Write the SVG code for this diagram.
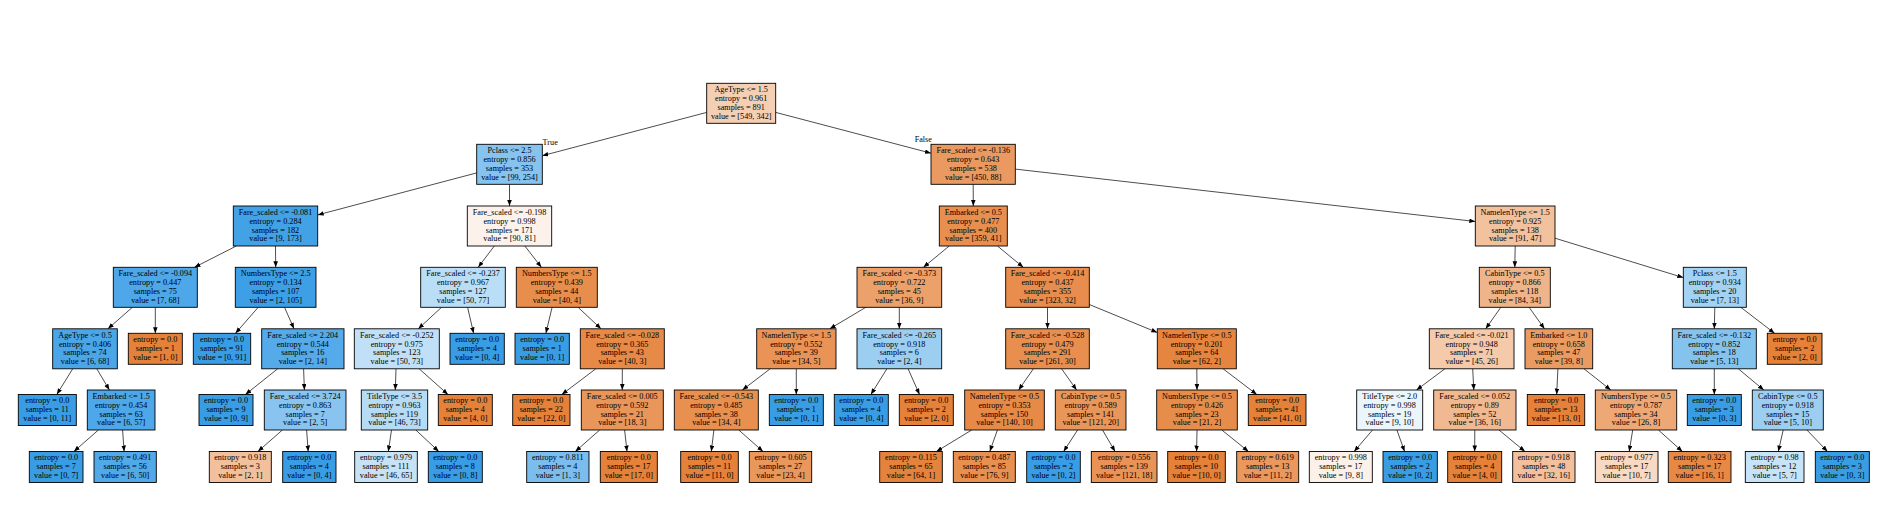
<svg xmlns="http://www.w3.org/2000/svg" width="1885" height="518" viewBox="0 0 1885 518">
<style>
.b{stroke:#000;stroke-width:0.9}
text{font-family:"Liberation Serif","Times New Roman",serif;font-size:8.2px;fill:#000;text-anchor:middle}
.e line{stroke:#000;stroke-width:0.7;marker-end:url(#ah)}
</style>
<defs>
<marker id="ah" markerWidth="6" markerHeight="5" refX="6" refY="2.3" orient="auto" markerUnits="userSpaceOnUse"><path d="M0,0 L6,2.3 L0,4.6 z" fill="#000"/></marker>
</defs>
<rect width="1885" height="518" fill="#fff"/>
<g id="edges" class="e">
<line x1="706.7" y1="112.4" x2="542.3" y2="155.7"/>
<line x1="775.7" y1="112.4" x2="931" y2="153.2"/>
<line x1="476.7" y1="172.9" x2="317.7" y2="214.9"/>
<line x1="509.5" y1="184.3" x2="509.5" y2="206"/>
<line x1="973.2" y1="184.3" x2="973.3" y2="206"/>
<line x1="1015.3" y1="169.1" x2="1475.3" y2="221.5"/>
<line x1="236.3" y1="246" x2="194.5" y2="267.3"/>
<line x1="275.5" y1="246" x2="275.7" y2="267.3"/>
<line x1="132.4" y1="307.3" x2="107.9" y2="328.8"/>
<line x1="155.3" y1="307.3" x2="155.3" y2="333.3"/>
<line x1="72.7" y1="368.8" x2="56.8" y2="394.5"/>
<line x1="96.8" y1="368.8" x2="109.4" y2="390"/>
<line x1="98.4" y1="430" x2="73.9" y2="451.5"/>
<line x1="122.6" y1="430" x2="124.1" y2="451.5"/>
<line x1="258.2" y1="307.3" x2="235.5" y2="333.3"/>
<line x1="284.5" y1="307.3" x2="294" y2="328.8"/>
<line x1="277.7" y1="368.8" x2="245.4" y2="394.5"/>
<line x1="303.6" y1="368.8" x2="304.4" y2="390"/>
<line x1="282.4" y1="430" x2="257.9" y2="451.5"/>
<line x1="306.6" y1="430" x2="308.2" y2="451.5"/>
<line x1="494.3" y1="246" x2="478.2" y2="267.3"/>
<line x1="524.9" y1="246" x2="541.4" y2="267.3"/>
<line x1="441.5" y1="307.3" x2="418.3" y2="328.8"/>
<line x1="467.6" y1="307.3" x2="473.6" y2="333.3"/>
<line x1="396" y1="368.8" x2="395.3" y2="390"/>
<line x1="419.2" y1="368.8" x2="448" y2="394.5"/>
<line x1="391.5" y1="430" x2="388.3" y2="451.5"/>
<line x1="415.8" y1="430" x2="438.8" y2="451.5"/>
<line x1="552.1" y1="307.3" x2="545.9" y2="333.3"/>
<line x1="578.1" y1="307.3" x2="601" y2="328.8"/>
<line x1="595.8" y1="368.8" x2="561.8" y2="394.5"/>
<line x1="622.3" y1="368.8" x2="622.3" y2="390"/>
<line x1="599.7" y1="430" x2="575.3" y2="451.5"/>
<line x1="624.6" y1="430" x2="627" y2="451.5"/>
<line x1="949.2" y1="246" x2="923.4" y2="267.3"/>
<line x1="997.5" y1="246" x2="1023.3" y2="267.3"/>
<line x1="865.8" y1="307.3" x2="829.8" y2="328.8"/>
<line x1="899.3" y1="307.3" x2="899.3" y2="328.8"/>
<line x1="770.2" y1="368.8" x2="742.4" y2="390"/>
<line x1="796.3" y1="368.8" x2="796.3" y2="394.5"/>
<line x1="713.9" y1="430" x2="711.3" y2="451.5"/>
<line x1="738.8" y1="430" x2="763" y2="451.5"/>
<line x1="886.9" y1="368.8" x2="870.9" y2="394.5"/>
<line x1="908.1" y1="368.8" x2="919.5" y2="394.5"/>
<line x1="1047.5" y1="307.3" x2="1047.5" y2="328.8"/>
<line x1="1089.3" y1="304.5" x2="1157.3" y2="332.5"/>
<line x1="1033.4" y1="368.8" x2="1018.6" y2="390"/>
<line x1="1061.6" y1="368.8" x2="1076.6" y2="390"/>
<line x1="971.7" y1="430" x2="936.4" y2="451.5"/>
<line x1="997.4" y1="430" x2="989.8" y2="451.5"/>
<line x1="1077.6" y1="430" x2="1063.6" y2="451.5"/>
<line x1="1102.5" y1="430" x2="1115.1" y2="451.5"/>
<line x1="1196.8" y1="368.8" x2="1197" y2="390"/>
<line x1="1223.1" y1="368.8" x2="1256.8" y2="394.5"/>
<line x1="1197" y1="430" x2="1196.6" y2="451.5"/>
<line x1="1221.8" y1="430" x2="1248.5" y2="451.5"/>
<line x1="1515.2" y1="246" x2="1514.8" y2="267.3"/>
<line x1="1555" y1="238.2" x2="1683.3" y2="277.6"/>
<line x1="1500.8" y1="307.3" x2="1485.7" y2="328.8"/>
<line x1="1529.1" y1="307.3" x2="1544.5" y2="328.8"/>
<line x1="1444.9" y1="368.8" x2="1416.5" y2="390"/>
<line x1="1472.7" y1="368.8" x2="1473.8" y2="390"/>
<line x1="1372.5" y1="430" x2="1354.1" y2="451.5"/>
<line x1="1396.9" y1="430" x2="1404.6" y2="451.5"/>
<line x1="1474.8" y1="430" x2="1474.7" y2="451.5"/>
<line x1="1499" y1="430" x2="1525" y2="451.5"/>
<line x1="1557.9" y1="368.8" x2="1556.7" y2="394.5"/>
<line x1="1584" y1="368.8" x2="1610.8" y2="390"/>
<line x1="1632.7" y1="430" x2="1629.2" y2="451.5"/>
<line x1="1658.4" y1="430" x2="1682.4" y2="451.5"/>
<line x1="1714.8" y1="307.3" x2="1714.3" y2="328.8"/>
<line x1="1740.8" y1="307.3" x2="1774.6" y2="333.3"/>
<line x1="1714.3" y1="368.8" x2="1714.3" y2="394.5"/>
<line x1="1738.3" y1="368.8" x2="1763.8" y2="390"/>
<line x1="1783.2" y1="430" x2="1778.3" y2="451.5"/>
<line x1="1806.9" y1="430" x2="1827.5" y2="451.5"/>
<text x="550.2" y="145">True</text>
<text x="923.3" y="142.3">False</text>
</g>
<g id="n0"><rect class="b" x="706.7" y="83.3" width="69" height="40" fill="#f5cfb4"/><text x="741.2" y="92.2"><tspan x="741.2">AgeType &lt;= 1.5</tspan><tspan x="741.2" dy="8.8">entropy = 0.961</tspan><tspan x="741.2" dy="8.8">samples = 891</tspan><tspan x="741.2" dy="8.8">value = [549, 342]</tspan></text></g>
<g id="n1"><rect class="b" x="476.7" y="144.3" width="65.6" height="40" fill="#86c3ef"/><text x="509.5" y="153.2"><tspan x="509.5">Pclass &lt;= 2.5</tspan><tspan x="509.5" dy="8.8">entropy = 0.856</tspan><tspan x="509.5" dy="8.8">samples = 353</tspan><tspan x="509.5" dy="8.8">value = [99, 254]</tspan></text></g>
<g id="n2"><rect class="b" x="233.3" y="206" width="84.4" height="40" fill="#43a2e6"/><text x="275.5" y="214.9"><tspan x="275.5">Fare_scaled &lt;= -0.081</tspan><tspan x="275.5" dy="8.8">entropy = 0.284</tspan><tspan x="275.5" dy="8.8">samples = 182</tspan><tspan x="275.5" dy="8.8">value = [9, 173]</tspan></text></g>
<g id="n3"><rect class="b" x="113.3" y="267.3" width="84" height="40" fill="#4da7e8"/><text x="155.3" y="276.2"><tspan x="155.3">Fare_scaled &lt;= -0.094</tspan><tspan x="155.3" dy="8.8">entropy = 0.447</tspan><tspan x="155.3" dy="8.8">samples = 75</tspan><tspan x="155.3" dy="8.8">value = [7, 68]</tspan></text></g>
<g id="n4"><rect class="b" x="52.7" y="328.8" width="64.6" height="40" fill="#4aa6e7"/><text x="85" y="337.7"><tspan x="85">AgeType &lt;= 0.5</tspan><tspan x="85" dy="8.8">entropy = 0.406</tspan><tspan x="85" dy="8.8">samples = 74</tspan><tspan x="85" dy="8.8">value = [6, 68]</tspan></text></g>
<g id="n5"><rect class="b" x="18.3" y="394.5" width="58" height="31" fill="#399de5"/><text x="47.3" y="403.4"><tspan x="47.3">entropy = 0.0</tspan><tspan x="47.3" dy="8.8">samples = 11</tspan><tspan x="47.3" dy="8.8">value = [0, 11]</tspan></text></g>
<g id="n6"><rect class="b" x="87.3" y="390" width="67.7" height="40" fill="#4ea7e8"/><text x="121.2" y="398.9"><tspan x="121.2">Embarked &lt;= 1.5</tspan><tspan x="121.2" dy="8.8">entropy = 0.454</tspan><tspan x="121.2" dy="8.8">samples = 63</tspan><tspan x="121.2" dy="8.8">value = [6, 57]</tspan></text></g>
<g id="n7"><rect class="b" x="29.3" y="451.5" width="53.7" height="31" fill="#399de5"/><text x="56.2" y="460.4"><tspan x="56.2">entropy = 0.0</tspan><tspan x="56.2" dy="8.8">samples = 7</tspan><tspan x="56.2" dy="8.8">value = [0, 7]</tspan></text></g>
<g id="n8"><rect class="b" x="94" y="451.5" width="62.3" height="31" fill="#51a9e8"/><text x="125.2" y="460.4"><tspan x="125.2">entropy = 0.491</tspan><tspan x="125.2" dy="8.8">samples = 56</tspan><tspan x="125.2" dy="8.8">value = [6, 50]</tspan></text></g>
<g id="n9"><rect class="b" x="128.3" y="333.3" width="54" height="31" fill="#e58139"/><text x="155.3" y="342.2"><tspan x="155.3">entropy = 0.0</tspan><tspan x="155.3" dy="8.8">samples = 1</tspan><tspan x="155.3" dy="8.8">value = [1, 0]</tspan></text></g>
<g id="n10"><rect class="b" x="235.3" y="267.3" width="80.7" height="40" fill="#3d9fe5"/><text x="275.7" y="276.2"><tspan x="275.7">NumbersType &lt;= 2.5</tspan><tspan x="275.7" dy="8.8">entropy = 0.134</tspan><tspan x="275.7" dy="8.8">samples = 107</tspan><tspan x="275.7" dy="8.8">value = [2, 105]</tspan></text></g>
<g id="n11"><rect class="b" x="193.3" y="333.3" width="57.4" height="31" fill="#399de5"/><text x="222" y="342.2"><tspan x="222">entropy = 0.0</tspan><tspan x="222" dy="8.8">samples = 91</tspan><tspan x="222" dy="8.8">value = [0, 91]</tspan></text></g>
<g id="n12"><rect class="b" x="261.7" y="328.8" width="82.3" height="40" fill="#55abe9"/><text x="302.8" y="337.7"><tspan x="302.8">Fare_scaled &lt;= 2.204</tspan><tspan x="302.8" dy="8.8">entropy = 0.544</tspan><tspan x="302.8" dy="8.8">samples = 16</tspan><tspan x="302.8" dy="8.8">value = [2, 14]</tspan></text></g>
<g id="n13"><rect class="b" x="199" y="394.5" width="54" height="31" fill="#399de5"/><text x="226" y="403.4"><tspan x="226">entropy = 0.0</tspan><tspan x="226" dy="8.8">samples = 9</tspan><tspan x="226" dy="8.8">value = [0, 9]</tspan></text></g>
<g id="n14"><rect class="b" x="264.3" y="390" width="81.7" height="40" fill="#88c4ef"/><text x="305.2" y="398.9"><tspan x="305.2">Fare_scaled &lt;= 3.724</tspan><tspan x="305.2" dy="8.8">entropy = 0.863</tspan><tspan x="305.2" dy="8.8">samples = 7</tspan><tspan x="305.2" dy="8.8">value = [2, 5]</tspan></text></g>
<g id="n15"><rect class="b" x="209.3" y="451.5" width="62" height="31" fill="#f2c09c"/><text x="240.3" y="460.4"><tspan x="240.3">entropy = 0.918</tspan><tspan x="240.3" dy="8.8">samples = 3</tspan><tspan x="240.3" dy="8.8">value = [2, 1]</tspan></text></g>
<g id="n16"><rect class="b" x="282.7" y="451.5" width="53.3" height="31" fill="#399de5"/><text x="309.3" y="460.4"><tspan x="309.3">entropy = 0.0</tspan><tspan x="309.3" dy="8.8">samples = 4</tspan><tspan x="309.3" dy="8.8">value = [0, 4]</tspan></text></g>
<g id="n17"><rect class="b" x="467.3" y="206" width="84.4" height="40" fill="#fcf2eb"/><text x="509.5" y="214.9"><tspan x="509.5">Fare_scaled &lt;= -0.198</tspan><tspan x="509.5" dy="8.8">entropy = 0.998</tspan><tspan x="509.5" dy="8.8">samples = 171</tspan><tspan x="509.5" dy="8.8">value = [90, 81]</tspan></text></g>
<g id="n18"><rect class="b" x="420.7" y="267.3" width="84.6" height="40" fill="#badef6"/><text x="463" y="276.2"><tspan x="463">Fare_scaled &lt;= -0.237</tspan><tspan x="463" dy="8.8">entropy = 0.967</tspan><tspan x="463" dy="8.8">samples = 127</tspan><tspan x="463" dy="8.8">value = [50, 77]</tspan></text></g>
<g id="n19"><rect class="b" x="354.3" y="328.8" width="85" height="40" fill="#c1e0f7"/><text x="396.8" y="337.7"><tspan x="396.8">Fare_scaled &lt;= -0.252</tspan><tspan x="396.8" dy="8.8">entropy = 0.975</tspan><tspan x="396.8" dy="8.8">samples = 123</tspan><tspan x="396.8" dy="8.8">value = [50, 73]</tspan></text></g>
<g id="n20"><rect class="b" x="361.3" y="390" width="66.4" height="40" fill="#b6dbf5"/><text x="394.5" y="398.9"><tspan x="394.5">TitleType &lt;= 3.5</tspan><tspan x="394.5" dy="8.8">entropy = 0.963</tspan><tspan x="394.5" dy="8.8">samples = 119</tspan><tspan x="394.5" dy="8.8">value = [46, 73]</tspan></text></g>
<g id="n21"><rect class="b" x="354.7" y="451.5" width="62.6" height="31" fill="#c5e2f7"/><text x="386" y="460.4"><tspan x="386">entropy = 0.979</tspan><tspan x="386" dy="8.8">samples = 111</tspan><tspan x="386" dy="8.8">value = [46, 65]</tspan></text></g>
<g id="n22"><rect class="b" x="428.3" y="451.5" width="54" height="31" fill="#399de5"/><text x="455.3" y="460.4"><tspan x="455.3">entropy = 0.0</tspan><tspan x="455.3" dy="8.8">samples = 8</tspan><tspan x="455.3" dy="8.8">value = [0, 8]</tspan></text></g>
<g id="n23"><rect class="b" x="438.3" y="394.5" width="54" height="31" fill="#e58139"/><text x="465.3" y="403.4"><tspan x="465.3">entropy = 0.0</tspan><tspan x="465.3" dy="8.8">samples = 4</tspan><tspan x="465.3" dy="8.8">value = [4, 0]</tspan></text></g>
<g id="n24"><rect class="b" x="450" y="333.3" width="54.3" height="31" fill="#399de5"/><text x="477.2" y="342.2"><tspan x="477.2">entropy = 0.0</tspan><tspan x="477.2" dy="8.8">samples = 4</tspan><tspan x="477.2" dy="8.8">value = [0, 4]</tspan></text></g>
<g id="n25"><rect class="b" x="516.3" y="267.3" width="81" height="40" fill="#e88e4d"/><text x="556.8" y="276.2"><tspan x="556.8">NumbersType &lt;= 1.5</tspan><tspan x="556.8" dy="8.8">entropy = 0.439</tspan><tspan x="556.8" dy="8.8">samples = 44</tspan><tspan x="556.8" dy="8.8">value = [40, 4]</tspan></text></g>
<g id="n26"><rect class="b" x="515" y="333.3" width="54.3" height="31" fill="#399de5"/><text x="542.2" y="342.2"><tspan x="542.2">entropy = 0.0</tspan><tspan x="542.2" dy="8.8">samples = 1</tspan><tspan x="542.2" dy="8.8">value = [0, 1]</tspan></text></g>
<g id="n27"><rect class="b" x="580.3" y="328.8" width="84" height="40" fill="#e78a48"/><text x="622.3" y="337.7"><tspan x="622.3">Fare_scaled &lt;= -0.028</tspan><tspan x="622.3" dy="8.8">entropy = 0.365</tspan><tspan x="622.3" dy="8.8">samples = 43</tspan><tspan x="622.3" dy="8.8">value = [40, 3]</tspan></text></g>
<g id="n28"><rect class="b" x="512.7" y="394.5" width="57.3" height="31" fill="#e58139"/><text x="541.3" y="403.4"><tspan x="541.3">entropy = 0.0</tspan><tspan x="541.3" dy="8.8">samples = 22</tspan><tspan x="541.3" dy="8.8">value = [22, 0]</tspan></text></g>
<g id="n29"><rect class="b" x="581.3" y="390" width="82" height="40" fill="#e9965a"/><text x="622.3" y="398.9"><tspan x="622.3">Fare_scaled &lt;= 0.005</tspan><tspan x="622.3" dy="8.8">entropy = 0.592</tspan><tspan x="622.3" dy="8.8">samples = 21</tspan><tspan x="622.3" dy="8.8">value = [18, 3]</tspan></text></g>
<g id="n30"><rect class="b" x="526.7" y="451.5" width="62.3" height="31" fill="#7bbeee"/><text x="557.8" y="460.4"><tspan x="557.8">entropy = 0.811</tspan><tspan x="557.8" dy="8.8">samples = 4</tspan><tspan x="557.8" dy="8.8">value = [1, 3]</tspan></text></g>
<g id="n31"><rect class="b" x="600.3" y="451.5" width="57" height="31" fill="#e58139"/><text x="628.8" y="460.4"><tspan x="628.8">entropy = 0.0</tspan><tspan x="628.8" dy="8.8">samples = 17</tspan><tspan x="628.8" dy="8.8">value = [17, 0]</tspan></text></g>
<g id="n32"><rect class="b" x="931" y="144.3" width="84.3" height="40" fill="#ea9a60"/><text x="973.2" y="153.2"><tspan x="973.2">Fare_scaled &lt;= -0.136</tspan><tspan x="973.2" dy="8.8">entropy = 0.643</tspan><tspan x="973.2" dy="8.8">samples = 538</tspan><tspan x="973.2" dy="8.8">value = [450, 88]</tspan></text></g>
<g id="n33"><rect class="b" x="939.3" y="206" width="68" height="40" fill="#e88f50"/><text x="973.3" y="214.9"><tspan x="973.3">Embarked &lt;= 0.5</tspan><tspan x="973.3" dy="8.8">entropy = 0.477</tspan><tspan x="973.3" dy="8.8">samples = 400</tspan><tspan x="973.3" dy="8.8">value = [359, 41]</tspan></text></g>
<g id="n34"><rect class="b" x="857" y="267.3" width="84.7" height="40" fill="#eca06a"/><text x="899.3" y="276.2"><tspan x="899.3">Fare_scaled &lt;= -0.373</tspan><tspan x="899.3" dy="8.8">entropy = 0.722</tspan><tspan x="899.3" dy="8.8">samples = 45</tspan><tspan x="899.3" dy="8.8">value = [36, 9]</tspan></text></g>
<g id="n35"><rect class="b" x="756.7" y="328.8" width="79.3" height="40" fill="#e99456"/><text x="796.3" y="337.7"><tspan x="796.3">NamelenType &lt;= 1.5</tspan><tspan x="796.3" dy="8.8">entropy = 0.552</tspan><tspan x="796.3" dy="8.8">samples = 39</tspan><tspan x="796.3" dy="8.8">value = [34, 5]</tspan></text></g>
<g id="n36"><rect class="b" x="674.3" y="390" width="84" height="40" fill="#e89050"/><text x="716.3" y="398.9"><tspan x="716.3">Fare_scaled &lt;= -0.543</tspan><tspan x="716.3" dy="8.8">entropy = 0.485</tspan><tspan x="716.3" dy="8.8">samples = 38</tspan><tspan x="716.3" dy="8.8">value = [34, 4]</tspan></text></g>
<g id="n37"><rect class="b" x="680.7" y="451.5" width="57.6" height="31" fill="#e58139"/><text x="709.5" y="460.4"><tspan x="709.5">entropy = 0.0</tspan><tspan x="709.5" dy="8.8">samples = 11</tspan><tspan x="709.5" dy="8.8">value = [11, 0]</tspan></text></g>
<g id="n38"><rect class="b" x="749.3" y="451.5" width="62.4" height="31" fill="#ea975b"/><text x="780.5" y="460.4"><tspan x="780.5">entropy = 0.605</tspan><tspan x="780.5" dy="8.8">samples = 27</tspan><tspan x="780.5" dy="8.8">value = [23, 4]</tspan></text></g>
<g id="n39"><rect class="b" x="769.3" y="394.5" width="54" height="31" fill="#399de5"/><text x="796.3" y="403.4"><tspan x="796.3">entropy = 0.0</tspan><tspan x="796.3" dy="8.8">samples = 1</tspan><tspan x="796.3" dy="8.8">value = [0, 1]</tspan></text></g>
<g id="n40"><rect class="b" x="857" y="328.8" width="84.7" height="40" fill="#9ccef2"/><text x="899.3" y="337.7"><tspan x="899.3">Fare_scaled &lt;= -0.265</tspan><tspan x="899.3" dy="8.8">entropy = 0.918</tspan><tspan x="899.3" dy="8.8">samples = 6</tspan><tspan x="899.3" dy="8.8">value = [2, 4]</tspan></text></g>
<g id="n41"><rect class="b" x="834.3" y="394.5" width="54" height="31" fill="#399de5"/><text x="861.3" y="403.4"><tspan x="861.3">entropy = 0.0</tspan><tspan x="861.3" dy="8.8">samples = 4</tspan><tspan x="861.3" dy="8.8">value = [0, 4]</tspan></text></g>
<g id="n42"><rect class="b" x="899.3" y="394.5" width="54" height="31" fill="#e58139"/><text x="926.3" y="403.4"><tspan x="926.3">entropy = 0.0</tspan><tspan x="926.3" dy="8.8">samples = 2</tspan><tspan x="926.3" dy="8.8">value = [2, 0]</tspan></text></g>
<g id="n43"><rect class="b" x="1005.7" y="267.3" width="83.6" height="40" fill="#e88d4d"/><text x="1047.5" y="276.2"><tspan x="1047.5">Fare_scaled &lt;= -0.414</tspan><tspan x="1047.5" dy="8.8">entropy = 0.437</tspan><tspan x="1047.5" dy="8.8">samples = 355</tspan><tspan x="1047.5" dy="8.8">value = [323, 32]</tspan></text></g>
<g id="n44"><rect class="b" x="1005.7" y="328.8" width="83.6" height="40" fill="#e88f50"/><text x="1047.5" y="337.7"><tspan x="1047.5">Fare_scaled &lt;= -0.528</tspan><tspan x="1047.5" dy="8.8">entropy = 0.479</tspan><tspan x="1047.5" dy="8.8">samples = 291</tspan><tspan x="1047.5" dy="8.8">value = [261, 30]</tspan></text></g>
<g id="n45"><rect class="b" x="964.7" y="390" width="79.6" height="40" fill="#e78a47"/><text x="1004.5" y="398.9"><tspan x="1004.5">NamelenType &lt;= 0.5</tspan><tspan x="1004.5" dy="8.8">entropy = 0.353</tspan><tspan x="1004.5" dy="8.8">samples = 150</tspan><tspan x="1004.5" dy="8.8">value = [140, 10]</tspan></text></g>
<g id="n46"><rect class="b" x="879.7" y="451.5" width="62.6" height="31" fill="#e5833c"/><text x="911" y="460.4"><tspan x="911">entropy = 0.115</tspan><tspan x="911" dy="8.8">samples = 65</tspan><tspan x="911" dy="8.8">value = [64, 1]</tspan></text></g>
<g id="n47"><rect class="b" x="953.3" y="451.5" width="62" height="31" fill="#e89050"/><text x="984.3" y="460.4"><tspan x="984.3">entropy = 0.487</tspan><tspan x="984.3" dy="8.8">samples = 85</tspan><tspan x="984.3" dy="8.8">value = [76, 9]</tspan></text></g>
<g id="n48"><rect class="b" x="1055.3" y="390" width="70.7" height="40" fill="#e9965a"/><text x="1090.7" y="398.9"><tspan x="1090.7">CabinType &lt;= 0.5</tspan><tspan x="1090.7" dy="8.8">entropy = 0.589</tspan><tspan x="1090.7" dy="8.8">samples = 141</tspan><tspan x="1090.7" dy="8.8">value = [121, 20]</tspan></text></g>
<g id="n49"><rect class="b" x="1026.7" y="451.5" width="53.6" height="31" fill="#399de5"/><text x="1053.5" y="460.4"><tspan x="1053.5">entropy = 0.0</tspan><tspan x="1053.5" dy="8.8">samples = 2</tspan><tspan x="1053.5" dy="8.8">value = [0, 2]</tspan></text></g>
<g id="n50"><rect class="b" x="1091.3" y="451.5" width="65.7" height="31" fill="#e99456"/><text x="1124.2" y="460.4"><tspan x="1124.2">entropy = 0.556</tspan><tspan x="1124.2" dy="8.8">samples = 139</tspan><tspan x="1124.2" dy="8.8">value = [121, 18]</tspan></text></g>
<g id="n51"><rect class="b" x="1157.3" y="328.8" width="79" height="40" fill="#e6853f"/><text x="1196.8" y="337.7"><tspan x="1196.8">NamelenType &lt;= 0.5</tspan><tspan x="1196.8" dy="8.8">entropy = 0.201</tspan><tspan x="1196.8" dy="8.8">samples = 64</tspan><tspan x="1196.8" dy="8.8">value = [62, 2]</tspan></text></g>
<g id="n52"><rect class="b" x="1156.7" y="390" width="80.6" height="40" fill="#e78d4c"/><text x="1197" y="398.9"><tspan x="1197">NumbersType &lt;= 0.5</tspan><tspan x="1197" dy="8.8">entropy = 0.426</tspan><tspan x="1197" dy="8.8">samples = 23</tspan><tspan x="1197" dy="8.8">value = [21, 2]</tspan></text></g>
<g id="n53"><rect class="b" x="1167.7" y="451.5" width="57.6" height="31" fill="#e58139"/><text x="1196.5" y="460.4"><tspan x="1196.5">entropy = 0.0</tspan><tspan x="1196.5" dy="8.8">samples = 10</tspan><tspan x="1196.5" dy="8.8">value = [10, 0]</tspan></text></g>
<g id="n54"><rect class="b" x="1236.7" y="451.5" width="62" height="31" fill="#ea985d"/><text x="1267.7" y="460.4"><tspan x="1267.7">entropy = 0.619</tspan><tspan x="1267.7" dy="8.8">samples = 13</tspan><tspan x="1267.7" dy="8.8">value = [11, 2]</tspan></text></g>
<g id="n55"><rect class="b" x="1248.3" y="394.5" width="57.7" height="31" fill="#e58139"/><text x="1277.2" y="403.4"><tspan x="1277.2">entropy = 0.0</tspan><tspan x="1277.2" dy="8.8">samples = 41</tspan><tspan x="1277.2" dy="8.8">value = [41, 0]</tspan></text></g>
<g id="n56"><rect class="b" x="1475.3" y="206" width="79.7" height="40" fill="#f2c29f"/><text x="1515.2" y="214.9"><tspan x="1515.2">NamelenType &lt;= 1.5</tspan><tspan x="1515.2" dy="8.8">entropy = 0.925</tspan><tspan x="1515.2" dy="8.8">samples = 138</tspan><tspan x="1515.2" dy="8.8">value = [91, 47]</tspan></text></g>
<g id="n57"><rect class="b" x="1479.3" y="267.3" width="71" height="40" fill="#efb489"/><text x="1514.8" y="276.2"><tspan x="1514.8">CabinType &lt;= 0.5</tspan><tspan x="1514.8" dy="8.8">entropy = 0.866</tspan><tspan x="1514.8" dy="8.8">samples = 118</tspan><tspan x="1514.8" dy="8.8">value = [84, 34]</tspan></text></g>
<g id="n58"><rect class="b" x="1429.3" y="328.8" width="84.7" height="40" fill="#f4caab"/><text x="1471.7" y="337.7"><tspan x="1471.7">Fare_scaled &lt;= -0.021</tspan><tspan x="1471.7" dy="8.8">entropy = 0.948</tspan><tspan x="1471.7" dy="8.8">samples = 71</tspan><tspan x="1471.7" dy="8.8">value = [45, 26]</tspan></text></g>
<g id="n59"><rect class="b" x="1356.7" y="390" width="66" height="40" fill="#ebf5fc"/><text x="1389.7" y="398.9"><tspan x="1389.7">TitleType &lt;= 2.0</tspan><tspan x="1389.7" dy="8.8">entropy = 0.998</tspan><tspan x="1389.7" dy="8.8">samples = 19</tspan><tspan x="1389.7" dy="8.8">value = [9, 10]</tspan></text></g>
<g id="n60"><rect class="b" x="1309.3" y="451.5" width="63" height="31" fill="#fcf1e9"/><text x="1340.8" y="460.4"><tspan x="1340.8">entropy = 0.998</tspan><tspan x="1340.8" dy="8.8">samples = 17</tspan><tspan x="1340.8" dy="8.8">value = [9, 8]</tspan></text></g>
<g id="n61"><rect class="b" x="1383" y="451.5" width="54.3" height="31" fill="#399de5"/><text x="1410.2" y="460.4"><tspan x="1410.2">entropy = 0.0</tspan><tspan x="1410.2" dy="8.8">samples = 2</tspan><tspan x="1410.2" dy="8.8">value = [0, 2]</tspan></text></g>
<g id="n62"><rect class="b" x="1433.7" y="390" width="82.3" height="40" fill="#f1b991"/><text x="1474.8" y="398.9"><tspan x="1474.8">Fare_scaled &lt;= 0.052</tspan><tspan x="1474.8" dy="8.8">entropy = 0.89</tspan><tspan x="1474.8" dy="8.8">samples = 52</tspan><tspan x="1474.8" dy="8.8">value = [36, 16]</tspan></text></g>
<g id="n63"><rect class="b" x="1447.7" y="451.5" width="54" height="31" fill="#e58139"/><text x="1474.7" y="460.4"><tspan x="1474.7">entropy = 0.0</tspan><tspan x="1474.7" dy="8.8">samples = 4</tspan><tspan x="1474.7" dy="8.8">value = [4, 0]</tspan></text></g>
<g id="n64"><rect class="b" x="1512.7" y="451.5" width="62.3" height="31" fill="#f2c09c"/><text x="1543.8" y="460.4"><tspan x="1543.8">entropy = 0.918</tspan><tspan x="1543.8" dy="8.8">samples = 48</tspan><tspan x="1543.8" dy="8.8">value = [32, 16]</tspan></text></g>
<g id="n65"><rect class="b" x="1525" y="328.8" width="67.7" height="40" fill="#ea9b62"/><text x="1558.8" y="337.7"><tspan x="1558.8">Embarked &lt;= 1.0</tspan><tspan x="1558.8" dy="8.8">entropy = 0.658</tspan><tspan x="1558.8" dy="8.8">samples = 47</tspan><tspan x="1558.8" dy="8.8">value = [39, 8]</tspan></text></g>
<g id="n66"><rect class="b" x="1527.3" y="394.5" width="57.4" height="31" fill="#e58139"/><text x="1556" y="403.4"><tspan x="1556">entropy = 0.0</tspan><tspan x="1556" dy="8.8">samples = 13</tspan><tspan x="1556" dy="8.8">value = [13, 0]</tspan></text></g>
<g id="n67"><rect class="b" x="1595.3" y="390" width="81.4" height="40" fill="#eda876"/><text x="1636" y="398.9"><tspan x="1636">NumbersType &lt;= 0.5</tspan><tspan x="1636" dy="8.8">entropy = 0.787</tspan><tspan x="1636" dy="8.8">samples = 34</tspan><tspan x="1636" dy="8.8">value = [26, 8]</tspan></text></g>
<g id="n68"><rect class="b" x="1595.3" y="451.5" width="62.7" height="31" fill="#f7d9c4"/><text x="1626.7" y="460.4"><tspan x="1626.7">entropy = 0.977</tspan><tspan x="1626.7" dy="8.8">samples = 17</tspan><tspan x="1626.7" dy="8.8">value = [10, 7]</tspan></text></g>
<g id="n69"><rect class="b" x="1668.3" y="451.5" width="62.7" height="31" fill="#e78945"/><text x="1699.7" y="460.4"><tspan x="1699.7">entropy = 0.323</tspan><tspan x="1699.7" dy="8.8">samples = 17</tspan><tspan x="1699.7" dy="8.8">value = [16, 1]</tspan></text></g>
<g id="n70"><rect class="b" x="1683.3" y="267.3" width="63" height="40" fill="#a4d2f3"/><text x="1714.8" y="276.2"><tspan x="1714.8">Pclass &lt;= 1.5</tspan><tspan x="1714.8" dy="8.8">entropy = 0.934</tspan><tspan x="1714.8" dy="8.8">samples = 20</tspan><tspan x="1714.8" dy="8.8">value = [7, 13]</tspan></text></g>
<g id="n71"><rect class="b" x="1672.3" y="328.8" width="84" height="40" fill="#85c3ef"/><text x="1714.3" y="337.7"><tspan x="1714.3">Fare_scaled &lt;= -0.132</tspan><tspan x="1714.3" dy="8.8">entropy = 0.852</tspan><tspan x="1714.3" dy="8.8">samples = 18</tspan><tspan x="1714.3" dy="8.8">value = [5, 13]</tspan></text></g>
<g id="n72"><rect class="b" x="1687.3" y="394.5" width="54" height="31" fill="#399de5"/><text x="1714.3" y="403.4"><tspan x="1714.3">entropy = 0.0</tspan><tspan x="1714.3" dy="8.8">samples = 3</tspan><tspan x="1714.3" dy="8.8">value = [0, 3]</tspan></text></g>
<g id="n73"><rect class="b" x="1752.3" y="390" width="71" height="40" fill="#9ccef2"/><text x="1787.8" y="398.9"><tspan x="1787.8">CabinType &lt;= 0.5</tspan><tspan x="1787.8" dy="8.8">entropy = 0.918</tspan><tspan x="1787.8" dy="8.8">samples = 15</tspan><tspan x="1787.8" dy="8.8">value = [5, 10]</tspan></text></g>
<g id="n74"><rect class="b" x="1745.3" y="451.5" width="58.7" height="31" fill="#c6e3f8"/><text x="1774.7" y="460.4"><tspan x="1774.7">entropy = 0.98</tspan><tspan x="1774.7" dy="8.8">samples = 12</tspan><tspan x="1774.7" dy="8.8">value = [5, 7]</tspan></text></g>
<g id="n75"><rect class="b" x="1815.3" y="451.5" width="54" height="31" fill="#399de5"/><text x="1842.3" y="460.4"><tspan x="1842.3">entropy = 0.0</tspan><tspan x="1842.3" dy="8.8">samples = 3</tspan><tspan x="1842.3" dy="8.8">value = [0, 3]</tspan></text></g>
<g id="n76"><rect class="b" x="1767.3" y="333.3" width="54.7" height="31" fill="#e58139"/><text x="1794.7" y="342.2"><tspan x="1794.7">entropy = 0.0</tspan><tspan x="1794.7" dy="8.8">samples = 2</tspan><tspan x="1794.7" dy="8.8">value = [2, 0]</tspan></text></g>
</svg>
